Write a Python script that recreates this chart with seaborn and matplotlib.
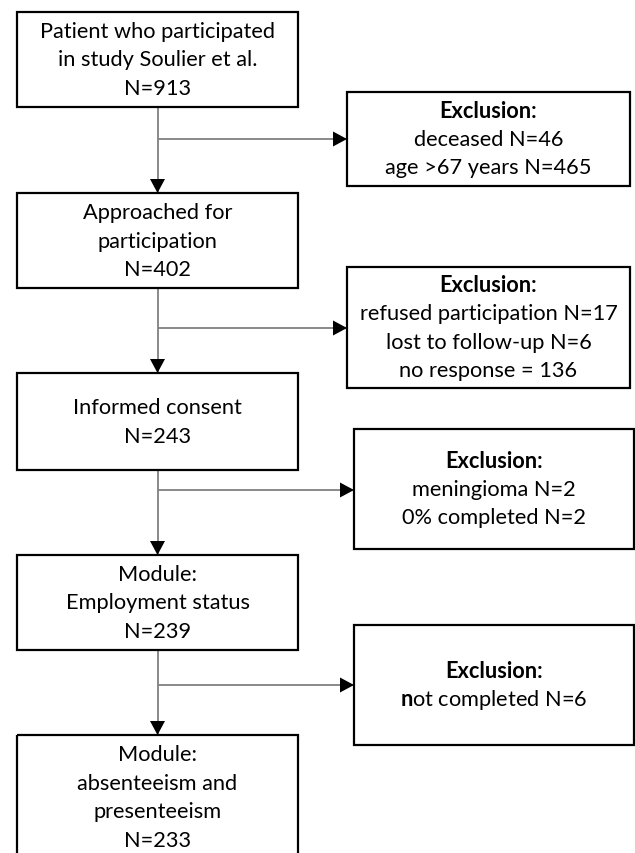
import matplotlib
matplotlib.use("Agg")
import matplotlib.pyplot as plt
import seaborn as sns
from matplotlib.patches import Rectangle

# ---- data ----
main_titles = [
    ["Patient who participated", "in study Soulier et al."],
    ["Approached for", "participation"],
    ["Informed consent"],
    ["Module:", "Employment status"],
    ["Module:", "absenteeism and", "presenteeism"],
]
main_counts = [913, 402, 243, 239, 233]
excl_lines = [
    ["deceased N=46", "age >67 years N=465"],
    ["refused participation N=17", "lost to follow-up N=6", "no response = 136"],
    ["meningioma N=2", "0% completed N=2"],
    [r"$\mathbf{n}$ot completed N=6"],
]
excl_header = "Exclusion:"

# ---- layout (pixel space) ----
W, H = 635, 854
main_x = (17, 298)
main_y = [(13, 108), (194, 289), (374, 471), (556, 651), (736, 860)]
excl_x = [(347, 630), (347, 630), (354, 634), (354, 634)]
excl_y = [(93, 187), (268, 389), (430, 550), (626, 746)]
arrow_y = [140, 329, 491, 686]
LS = 28.5
FS = 15.7

sns.set_style("white")
plt.rcParams["font.family"] = ["Lato", "DejaVu Sans"]
plt.rcParams["mathtext.fontset"] = "custom"
plt.rcParams["mathtext.bf"] = "Lato:bold"
plt.rcParams["mathtext.rm"] = "Lato"

fig = plt.figure(figsize=(W / 100, H / 100), dpi=100)
ax = fig.add_axes([0, 0, 1, 1])
ax.set_xlim(0, W)
ax.set_ylim(H, 0)
ax.axis("off")

def draw_box(x0, x1, y0, y1, lines, bold_first=False):
    ax.add_patch(Rectangle((x0, y0), x1 - x0, y1 - y0, fill=False,
                           edgecolor="black", linewidth=1.6, zorder=3))
    yc = (y0 + y1) / 2
    n = len(lines)
    for i, t in enumerate(lines):
        y = yc + (i - (n - 1) / 2) * LS
        ax.text((x0 + x1) / 2, y, t, ha="center", va="center", fontsize=FS,
                fontweight="bold" if (bold_first and i == 0) else "normal",
                color="black", zorder=4)

cx = (main_x[0] + main_x[1]) / 2
for title, n, (y0, y1) in zip(main_titles, main_counts, main_y):
    draw_box(main_x[0], main_x[1], y0, y1, title + [f"N={n}"])

for lines, (x0, x1), (y0, y1) in zip(excl_lines, excl_x, excl_y):
    draw_box(x0, x1, y0, y1, [excl_header] + lines, bold_first=True)

def arrow(p0, p1):
    ax.plot([p0[0], p1[0]], [p0[1], p1[1]], color="#808080", lw=1.3,
            solid_capstyle="butt", zorder=2)
    dx, dy = p1[0] - p0[0], p1[1] - p0[1]
    L = (dx ** 2 + dy ** 2) ** 0.5
    ux, uy = dx / L, dy / L
    hl, hw = 14, 7.5
    bx, by = p1[0] - ux * hl, p1[1] - uy * hl
    px, py = -uy, ux
    ax.fill([p1[0], bx + px * hw, bx - px * hw],
            [p1[1], by + py * hw, by - py * hw], color="black", zorder=3,
            lw=0)

for i in range(len(main_y) - 1):
    arrow((cx, main_y[i][1]), (cx, main_y[i + 1][0]))
for ay, (x0, x1) in zip(arrow_y, excl_x):
    arrow((cx, ay), (x0, ay))

fig.savefig("out.png", dpi=100, facecolor="white")
